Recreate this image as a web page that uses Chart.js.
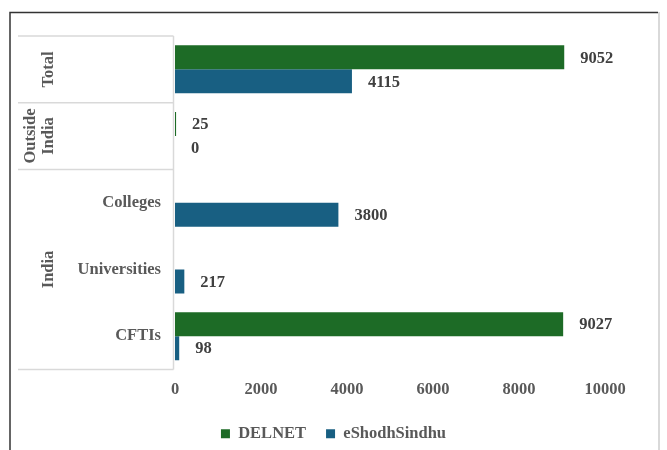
<!DOCTYPE html>
<html>
<head>
<meta charset="utf-8">
<script src="https://cdn.jsdelivr.net/npm/chart.js@4.4.1/dist/chart.umd.min.js"></script>
<style>
html, body { margin: 0; padding: 0; background: #fff; }
</style>
</head>
<body>
<canvas id="chart" width="667" height="450"></canvas>
<script>
const categories = ['Total', 'Outside India', 'Colleges', 'Universities', 'CFTIs'];
const tickLabels = ['', '', 'Colleges', 'Universities', 'CFTIs'];
const groupLabels = [['Total'], ['Outside', 'India'], ['India']];
const groupSizes = [1, 1, 3];
const delnet = [9052, 25, null, null, 9027];
const eShodhSindhu = [4115, 0, 3800, 217, 98];
const xTicks = [0, 2000, 4000, 6000, 8000, 10000];

const FONT = '"Liberation Serif", "Times New Roman", serif';
const SIZE = 16.5;

// frame round the picture, table lines of the category axis
const tablePlugin = {
    id: 'table',
    beforeDraw(chart){
        const ctx = chart.ctx, area = chart.chartArea, y = chart.scales.y;
        const rowH = (y.bottom - y.top) / categories.length;
        ctx.save();
        ctx.strokeStyle = '#333';
        ctx.lineWidth = 1.5;
        ctx.beginPath();
        ctx.moveTo(10, 450); ctx.lineTo(10, 12.5); ctx.lineTo(658, 12.5);
        ctx.stroke();
        ctx.strokeStyle = '#d9d9d9';
        ctx.lineWidth = 2;
        ctx.beginPath();
        ctx.moveTo(659, 12); ctx.lineTo(659, 450);
        ctx.stroke();

        ctx.strokeStyle = '#d9d9d9';
        ctx.lineWidth = 1.5;
        ctx.beginPath();
        var idx = 0;
        var edges = [y.getPixelForValue(0) - rowH / 2];
        for(const n of groupSizes){
            idx += n;
            edges.push(y.getPixelForValue(idx - 1) + rowH / 2);
        }
        for(const e of edges){
            ctx.moveTo(18, e); ctx.lineTo(area.left - 1.5, e);
        }
        ctx.moveTo(area.left - 1.5, edges[0]); ctx.lineTo(area.left - 1.5, edges[edges.length - 1]);
        ctx.stroke();
        ctx.restore();
    },
    afterDatasetsDraw(chart){
        const ctx = chart.ctx;
        ctx.save();
        ctx.font = 'bold ' + SIZE + 'px ' + FONT;
        ctx.fillStyle = '#404040';
        ctx.textAlign = 'left';
        ctx.textBaseline = 'middle';
        chart.data.datasets.forEach((ds, i) => {
            chart.getDatasetMeta(i).data.forEach((bar, j) => {
                if(ds.data[j] === null) return;
                ctx.fillText(ds.data[j], bar.x + 16, bar.y + 1);
            });
        });
        ctx.restore();
    },
    afterDraw(chart){
        const ctx = chart.ctx, y = chart.scales.y;
        ctx.save();
        ctx.font = 'bold ' + SIZE + 'px ' + FONT;
        ctx.fillStyle = '#595959';
        ctx.textAlign = 'center';
        ctx.textBaseline = 'middle';
        var idx = 0;
        groupLabels.forEach((lines, g) => {
            const first = y.getPixelForValue(idx);
            const last = y.getPixelForValue(idx + groupSizes[g] - 1);
            idx += groupSizes[g];
            const cy = (first + last) / 2;
            const cx = 49 - (lines.length - 1) * 18;
            ctx.save();
            ctx.translate(cx, cy);
            ctx.rotate(-Math.PI / 2);
            lines.forEach((t, k) => ctx.fillText(t, 0, k * 18));
            ctx.restore();
        });
        ctx.restore();
    }
};

function main(){
    "use strict";
    new Chart('chart', {
        type: 'bar',
        data: {
            labels: categories,
            datasets: [{
                label: 'DELNET',
                data: delnet,
                backgroundColor: '#1d6b26',
                categoryPercentage: 0.72,
                barPercentage: 1.0
            }, {
                label: 'eShodhSindhu',
                data: eShodhSindhu,
                backgroundColor: '#185f82',
                categoryPercentage: 0.72,
                barPercentage: 1.0
            }]
        },
        options: {
            indexAxis: 'y',
            responsive: false,
            devicePixelRatio: 1,
            animation: false,
            layout: {
                padding: { top: 36, right: 0, bottom: -2, left: 0 }
            },
            scales: {
                x: {
                    min: 0,
                    max: xTicks[xTicks.length - 1],
                    afterBuildTicks: s => { s.ticks = xTicks.map(v => ({ value: v })); },
                    ticks: {
                        color: '#595959',
                        font: { family: FONT, size: SIZE, weight: 'bold' },
                        padding: 10,
                        callback: v => String(v)
                    },
                    grid: { display: false, drawTicks: false },
                    border: { display: false },
                    afterFit: s => { s.height = 36; }
                },
                y: {
                    ticks: {
                        color: '#595959',
                        font: { family: FONT, size: SIZE, weight: 'bold' },
                        padding: 14,
                        callback: (v, i) => tickLabels[i]
                    },
                    grid: { display: false, drawTicks: false },
                    border: { display: false },
                    afterFit: s => { s.width = 175; }
                },
                // empty strip on the right, keeps the legend centred on the page
                side: {
                    type: 'linear',
                    axis: 'y',
                    position: 'right',
                    ticks: { display: false },
                    grid: { display: false, drawTicks: false },
                    border: { display: false },
                    afterFit: s => { s.width = 62; }
                }
            },
            plugins: {
                legend: {
                    position: 'bottom',
                    labels: {
                        boxWidth: 9,
                        boxHeight: 9,
                        color: '#595959',
                        font: { family: FONT, size: SIZE, weight: 'bold' },
                        padding: 20
                    }
                },
                tooltip: { enabled: false }
            }
        },
        plugins: [tablePlugin]
    });
}

main();
</script>
</body>
</html>
